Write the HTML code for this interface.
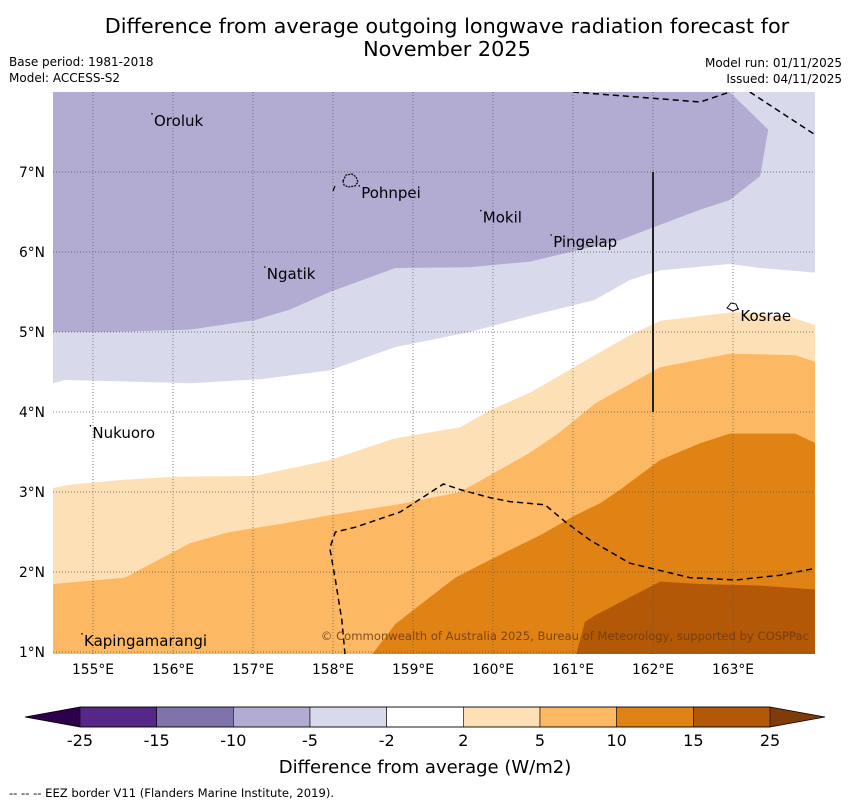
<!DOCTYPE html>
<html><head><meta charset="utf-8"><style>
body{margin:0;background:#fff;width:850px;height:804px;overflow:hidden;font-family:"DejaVu Sans","Liberation Sans",sans-serif}
svg text{font-family:"DejaVu Sans","Liberation Sans",sans-serif}
</style></head><body>
<svg id="c" width="850" height="804" xmlns="http://www.w3.org/2000/svg">
<text x="447" y="33" font-size="20.8" text-anchor="middle">Difference from average outgoing longwave radiation forecast for</text>
<text x="447" y="56" font-size="20.8" text-anchor="middle">November 2025</text>
<text x="9" y="66" font-size="12">Base period: 1981-2018</text>
<text x="9" y="82" font-size="12">Model: ACCESS-S2</text>
<text x="842" y="67" font-size="12" text-anchor="end">Model run: 01/11/2025</text>
<text x="842" y="83" font-size="12" text-anchor="end">Issued: 04/11/2025</text>
<g id="map"></g>
<g id="cbar"></g>
<text x="425" y="773" font-size="18" text-anchor="middle">Difference from average (W/m2)</text>
<text x="9" y="797" font-size="11.6">--  --  -- EEZ border V11 (Flanders Marine Institute, 2019).</text>
</svg>
<script>
const lonTicks=[155,156,157,158,159,160,161,162,163];
const latTicks=[1,2,3,4,5,6,7];
const levels=[-25,-15,-10,-5,-2,2,5,10,15,25];
const levelColors=["#542788","#8073ac","#b2abd2","#d8daeb","#ffffff","#fee0b6","#fdb863","#e08214","#b35806"];
// contour boundaries, [lon, lat]
const contMinus10=[[154.5,5.0],[155.21,5.0],[156.21,5.03],[157.03,5.15],[157.46,5.28],[157.96,5.5],[158.78,5.8],[159.71,5.81],[160.46,5.88],[161.09,6.03],[161.59,6.15],[162.09,6.34],[162.59,6.53],[162.96,6.65],[163.34,6.95],[163.44,7.53],[162.96,8.0]];
const contMinus5=[[154.5,4.36],[154.65,4.4],[155.46,4.38],[156.21,4.36],[157.09,4.41],[157.96,4.52],[158.77,4.81],[159.71,5.0],[160.46,5.2],[161.27,5.4],[161.71,5.65],[162.09,5.77],[162.96,5.85],[163.34,5.8],[164.05,5.74]];
const contPlus2=[[154.5,3.05],[154.71,3.09],[155.34,3.15],[156.02,3.19],[157.02,3.2],[157.96,3.4],[158.77,3.67],[159.59,3.81],[159.96,4.02],[160.46,4.24],[160.84,4.46],[161.27,4.71],[161.71,4.96],[162.09,5.14],[163.02,5.25],[163.71,5.19],[164.05,5.08]];
const contPlus5=[[154.5,1.85],[155.4,1.93],[156.21,2.36],[156.71,2.5],[157.34,2.6],[157.96,2.71],[158.84,2.85],[159.59,3.0],[160.46,3.49],[160.84,3.75],[161.28,4.11],[162.09,4.56],[162.96,4.73],[163.78,4.71],[164.05,4.62]];
const contPlus10=[[158.49,0.97],[158.78,1.35],[159.09,1.59],[159.53,1.93],[159.96,2.15],[160.59,2.46],[161.03,2.71],[161.34,2.86],[161.59,3.03],[162.09,3.4],[162.59,3.61],[162.96,3.73],[163.78,3.73],[164.05,3.6]];
const contPlus15=[[161.04,0.97],[161.15,1.38],[161.28,1.46],[162.09,1.88],[162.59,1.85],[163.34,1.83],[164.05,1.78]];
const eezMain=[[158.15,0.97],[158.11,1.4],[158.03,1.9],[157.96,2.3],[158.03,2.5],[158.28,2.56],[158.84,2.75],[159.38,3.1],[159.59,3.03],[159.96,2.93],[160.21,2.88],[160.65,2.84],[160.9,2.63],[161.21,2.4],[161.71,2.11],[162.46,1.93],[163.03,1.9],[163.59,1.96],[164.05,2.05]];
const eezTop1=[[161.0,8.0],[162.59,7.875],[162.96,8.0]];
const eezTop2=[[163.21,8.0],[164.05,7.45]];
const placeNames=["Oroluk","Pohnpei","Mokil","Pingelap","Ngatik","Kosrae","Nukuoro","Kapingamarangi"];
const placeLon=[155.75,158.34,159.86,160.74,157.16,163.08,154.98,154.875];
const placeLat=[7.64,6.74,6.43,6.125,5.725,5.2,3.74,1.14];

const NS="http://www.w3.org/2000/svg";
const X0=53,X1=815,Y0=92,Y1=654,LON0=154.5,LAT1=8.0,S=80;
const px=l=>X0+(l-LON0)*S, py=a=>Y0+(LAT1-a)*S;
const map=document.getElementById('map'),cb=document.getElementById('cbar');
function mk(t,at,p){const e=document.createElementNS(NS,t);for(const k in at)e.setAttribute(k,at[k]);(p||map).appendChild(e);return e;}
const pts=a=>a.map(p=>px(p[0]).toFixed(1)+','+py(p[1]).toFixed(1));
const cp=mk('clipPath',{id:'clip'});mk('rect',{x:X0,y:Y0,width:X1-X0,height:Y1-Y0},cp);
const g=mk('g',{'clip-path':'url(#clip)'});
function fillBelow(c,color,name){const e=mk('polygon',{points:[...pts(c),(X1+60)+','+(Y1+20),(X0-60)+','+(Y1+20)].join(' '),fill:color},g);}
function fillAbove(c,color,name){const e=mk('polygon',{points:[...pts(c),(X1+60)+','+(Y0-20),(X0-60)+','+(Y0-20)].join(' '),fill:color},g);}
mk('rect',{x:X0,y:Y0,width:X1-X0,height:Y1-Y0,fill:'#ffffff'},g);
fillAbove(contMinus5,levelColors[3],'region-minus5');
(function(){const e=mk('polygon',{points:[...pts(contMinus10),(X0-60)+','+(Y0-20)].join(' '),fill:levelColors[2]},g);})();
fillBelow(contPlus2,levelColors[5],'region-plus2');
fillBelow(contPlus5,levelColors[6],'region-plus5');
fillBelow(contPlus10,levelColors[7],'region-plus10');
fillBelow(contPlus15,levelColors[8],'region-plus15');
lonTicks.forEach(l=>{const e=mk('line',{x1:px(l),x2:px(l),y1:Y0,y2:Y1,stroke:'#555','stroke-width':0.7,'stroke-dasharray':'1,2'});
 const t=mk('text',{x:px(l),y:674,'font-size':13.8,'text-anchor':'middle'});t.textContent=l+'°E';});
latTicks.forEach(a=>{const e=mk('line',{x1:X0,x2:X1,y1:py(a),y2:py(a),stroke:'#555','stroke-width':0.7,'stroke-dasharray':'1,2'});
 const t=mk('text',{x:45,y:py(a)+5,'font-size':13.8,'text-anchor':'end'});t.textContent=a+'°N';});
[eezMain,eezTop1,eezTop2].forEach(c=>{const e=mk('polyline',{points:pts(c).join(' '),fill:'none',stroke:'#000','stroke-width':1.5,'stroke-dasharray':'6,4'},g);});
const vl=mk('line',{x1:px(162),x2:px(162),y1:py(7),y2:py(4),stroke:'#222','stroke-width':2});
const isl=mk('path',{d:'M343,181 l3,-6 6,-1 4,3 2,5 -3,4 -7,1 -4,-2z',fill:'none',stroke:'#000','stroke-width':1.2,'stroke-dasharray':'2,1'});
const isl2=mk('line',{x1:335,y1:186,x2:333,y2:191,stroke:'#000','stroke-width':1.2});
const isk=mk('path',{d:'M727,308 l4,-5 5,1 2,5 -5,2z',fill:'#fff',stroke:'#000','stroke-width':1});
placeNames.forEach((n,i)=>{const t=mk('text',{x:px(placeLon[i])+1,y:py(placeLat[i])+5,'font-size':15});t.textContent=n;
 const d=mk('circle',{cx:px(placeLon[i])-1,cy:py(placeLat[i])-7,r:0.8,fill:'#000'});});
const cr=mk('text',{x:809,y:640,'font-size':11.6,'text-anchor':'end',fill:'#6b3a10','fill-opacity':0.85});cr.textContent='© Commonwealth of Australia 2025, Bureau of Meteorology, supported by COSPPac';
const CB0=80,CB1=770,CY=707,CH=20,W=(CB1-CB0)/levelColors.length;
const t1=mk('polygon',{points:`25,717 ${CB0},${CY} ${CB0},${CY+CH}`,fill:'#2d004b'},cb);
const t2=mk('polygon',{points:`825,717 ${CB1},${CY} ${CB1},${CY+CH}`,fill:'#7f3b08'},cb);
levelColors.forEach((c,i)=>{const r=mk('rect',{x:CB0+i*W,y:CY,width:W,height:CH,fill:c,stroke:'#000','stroke-width':0.6},cb);});
mk('polygon',{points:`25,717 ${CB0},${CY} ${CB1},${CY} 825,717 ${CB1},${CY+CH} ${CB0},${CY+CH}`,fill:'none',stroke:'#000','stroke-width':0.8},cb);
levels.forEach((v,i)=>{const t=mk('text',{x:CB0+i*W,y:746,'font-size':16,'text-anchor':'middle'},cb);t.textContent=v;});
</script>
</body></html>
